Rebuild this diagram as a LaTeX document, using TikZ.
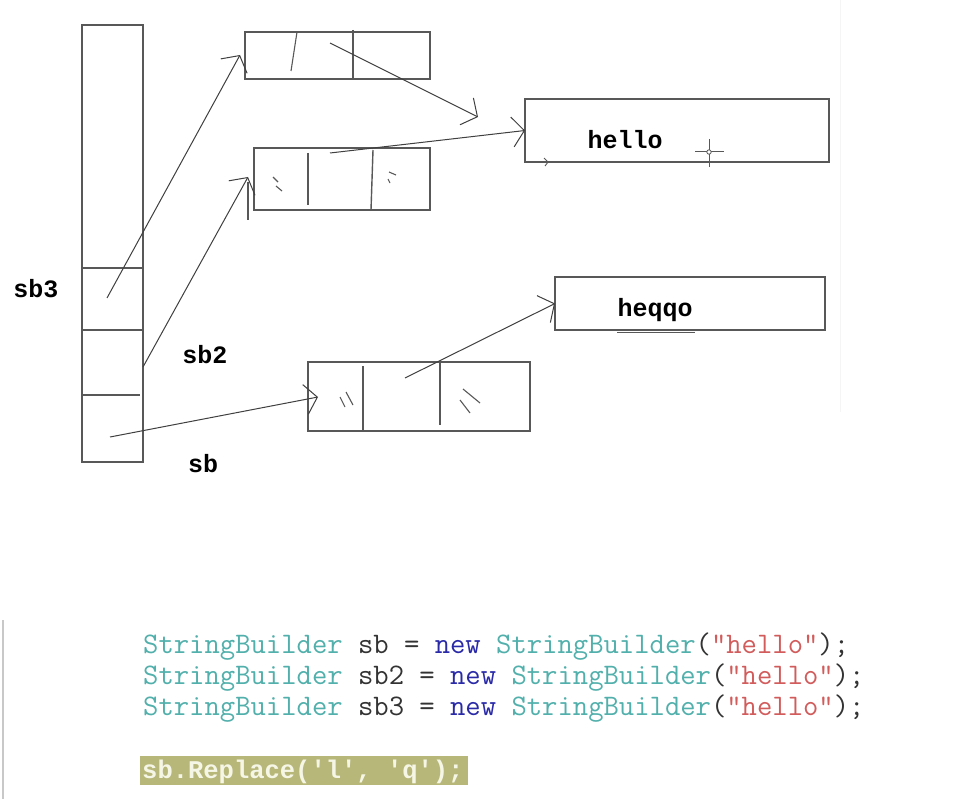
\documentclass[tikz,border=0pt]{standalone}
\usepackage{fontspec}
\newfontfamily\codefont{Latin Modern Mono}
\newfontfamily\boldmono{Liberation Mono}
\usetikzlibrary{arrows.meta}
\definecolor{linegray}{HTML}{585858}
\definecolor{arrgray}{HTML}{404040}
\definecolor{cteal}{HTML}{52B0AC}
\definecolor{cblue}{HTML}{2A2AA8}
\definecolor{cred}{HTML}{D25C5C}
\definecolor{cdark}{HTML}{333333}
\definecolor{hlfill}{HTML}{B7B77A}
\definecolor{hltext}{HTML}{F6F6E6}
\definecolor{edgegray}{HTML}{C8C8C8}
\tikzset{
  cellbox/.style={draw=linegray, line width=1.4pt, inner sep=0pt, outer sep=0pt, rectangle},
  divider/.style={draw=linegray, line width=1.4pt},
  scribble/.style={draw=linegray, line width=1.1pt},
  ptr/.style={draw=arrgray, line width=1pt, -{Straight Barb[length=12pt,width=30pt,line width=1pt]}},
  lbl/.style={font=\boldmono\bfseries\fontsize{25}{28}\selectfont, text=black, inner sep=0pt},
  code/.style={font=\codefont\fontsize{29.8}{32}\selectfont, inner sep=0pt, anchor=base west}
}
\begin{document}
\begin{tikzpicture}[x=1pt,y=-1pt]
\useasboundingbox (0,0) rectangle (979,799);
\fill[white] (0,0) rectangle (979,799);
% faint right edge of the upper screenshot
\draw[black!4, line width=0.8pt] (840,0) -- (840,412);
% stack
\node[cellbox, minimum width=61pt, minimum height=437pt] (stack) at (112.5,243.5) {};
\draw[divider] (82,268) -- (143,268);
\draw[divider] (82,330) -- (143,330);
\draw[divider] (82,395) -- (140,395);
\node[lbl] (lsb3) at (36,289) {sb3};
\node[lbl] (lsb2) at (205,355) {sb2};
\node[lbl] (lsb) at (203,464) {sb};
% box A
\node[cellbox, minimum width=185pt, minimum height=47pt] (A) at (337.5,55.5) {};
\draw[divider] (353,30) -- (353,79);
\draw[scribble] (297,32) -- (291,71);
% box B
\node[cellbox, minimum width=176pt, minimum height=62pt] (B) at (342,179) {};
\draw[divider] (308,153) -- (308,205);
\draw[divider] (373,150) -- (371,210);
\draw[scribble] (273,177) -- (278,182) (276,186) -- (282,191);
\draw[scribble] (389,172) -- (396,175) (388,179) -- (390,183);
\draw[scribble] (248,182) -- (248,220);
% box C
\node[cellbox, minimum width=222pt, minimum height=69pt] (C) at (419,396.5) {};
\draw[divider] (363,366) -- (363,431);
\draw[divider] (440,362) -- (440,425);
\draw[scribble] (340,397) -- (345,407) (346,392) -- (353,405);
\draw[scribble] (463,389) -- (480,403) (460,400) -- (470,413);
% hello box
\node[cellbox, minimum width=304pt, minimum height=63pt] (hello) at (677,130.5) {};
\node[lbl] (thello) at (625,140) {hello};
\draw[scribble, line width=0.9pt] (544,158) -- (548,162) -- (545,166);
\draw[linegray, line width=1pt] (695,152) -- (724,152) (709,139) -- (709,167);
\draw[linegray, fill=white, line width=0.8pt] (709,152) circle (2.2);
% heqqo box
\node[cellbox, minimum width=270pt, minimum height=53pt] (heqqo) at (690,303.5) {};
\node[lbl] (theqqo) at (655,310) {heqqo};
\draw[linegray, line width=1pt] (617,332) -- (695,332);
% pointer coordinates
\coordinate (p3) at (107,298);
\coordinate (p2) at (143,367);
\coordinate (p1) at (110,437);
\coordinate (aEnd) at (240,55);
\coordinate (bEnd) at (248,177);
\coordinate (cEnd) at (318,397);
\coordinate (aOut) at (330,43);
\coordinate (aTip) at (478,117);
\coordinate (bOut) at (330,153);
\coordinate (cOut) at (405,378);
% pointers
\draw[ptr] (p3) -- (aEnd);
\draw[ptr] (p2) -- (bEnd);
\draw[ptr] (p1) -- (cEnd);
\draw[ptr] (aOut) -- (aTip);
\draw[ptr] (bOut) -- (hello.west);
\draw[ptr] (cOut) -- (heqqo.west);
% code
\draw[edgegray, line width=2pt] (3,620) -- (3,799);
\node[code] (c1) at (143,653) {\textcolor{cteal}{StringBuilder} \textcolor{cdark}{sb =} \textcolor{cblue}{new} \textcolor{cteal}{StringBuilder}\textcolor{cdark}{(}\textcolor{cred}{"hello"}\textcolor{cdark}{);}};
\node[code] (c2) at (143,684) {\textcolor{cteal}{StringBuilder} \textcolor{cdark}{sb2 =} \textcolor{cblue}{new} \textcolor{cteal}{StringBuilder}\textcolor{cdark}{(}\textcolor{cred}{"hello"}\textcolor{cdark}{);}};
\node[code] (c3) at (143,715) {\textcolor{cteal}{StringBuilder} \textcolor{cdark}{sb3 =} \textcolor{cblue}{new} \textcolor{cteal}{StringBuilder}\textcolor{cdark}{(}\textcolor{cred}{"hello"}\textcolor{cdark}{);}};
\fill[hlfill] (140,756) rectangle (468,785);
\node[code, font=\boldmono\bfseries\fontsize{25.5}{30}\selectfont, text=hltext] (c4) at (142,778) {sb.Replace('l', 'q');};
\end{tikzpicture}
\end{document}
